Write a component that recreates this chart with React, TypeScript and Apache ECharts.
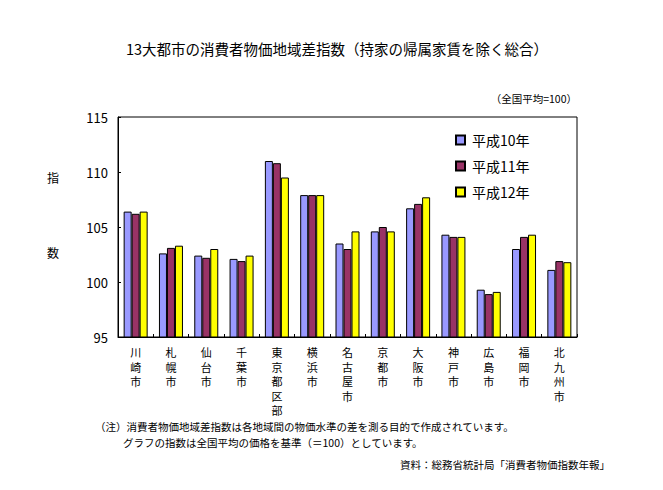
import React, { useEffect, useRef } from "react";
import * as echarts from "echarts";

const categories = ["川崎市", "札幌市", "仙台市", "千葉市", "東京都区部", "横浜市", "名古屋市", "京都市", "大阪市", "神戸市", "広島市", "福岡市", "北九州市"];
const seriesNames = ["平成10年", "平成11年", "平成12年"];
const h10 = [106.4, 102.6, 102.4, 102.1, 111.0, 107.9, 103.5, 104.6, 106.7, 104.3, 99.3, 103.0, 101.1];
const h11 = [106.2, 103.1, 102.2, 101.9, 110.8, 107.9, 103.0, 105.0, 107.1, 104.1, 98.9, 104.1, 101.9];
const h12 = [106.4, 103.3, 103.0, 102.4, 109.5, 107.9, 104.6, 104.6, 107.7, 104.1, 99.1, 104.3, 101.8];
const colors = ["#9999FF", "#993366", "#FFFF00"];

const FONT = "'Noto Sans CJK JP', sans-serif";

export default function App() {
  const ref = useRef<HTMLDivElement>(null);
  useEffect(() => {
    const chart = echarts.init(ref.current!, null, { renderer: "svg" });
    const data = [h10, h11, h12];
    chart.setOption({
      animation: false,
      backgroundColor: "#fff",
      textStyle: { fontFamily: FONT, color: "#000" },
      title: {
        text: "13大都市の消費者物価地域差指数（持家の帰属家賃を除く総合）",
        left: 332,
        textAlign: "center",
        top: 36,
        textStyle: { fontSize: 14.5, fontWeight: "normal", color: "#000", fontFamily: FONT },
      },
      legend: {
        orient: "vertical",
        left: 450,
        top: 127,
        itemWidth: 9,
        itemHeight: 9,
        itemGap: 10,
        icon: "rect",
        data: seriesNames,
        textStyle: { fontSize: 14, color: "#000", fontFamily: FONT, lineHeight: 16, padding: [0, 0, 0, 2] },
      },
      grid: {
        left: 118,
        right: 86,
        top: 117,
        bottom: 153,
        show: true,
        borderColor: "#000",
        borderWidth: 1,
      },
      xAxis: {
        type: "category",
        data: categories,
        axisLine: { lineStyle: { color: "#000", width: 1 } },
        axisTick: { show: true, inside: true, length: 3, lineStyle: { color: "#000" } },
        axisLabel: {
          color: "#000",
          fontSize: 11,
          lineHeight: 14.5,
          margin: 8,
          fontFamily: FONT,
          formatter: (v: string) => v.split("").join("\n"),
        },
      },
      yAxis: {
        type: "value",
        min: 95,
        max: 115,
        interval: 5,
        splitLine: { show: false },
        axisLine: { show: true, lineStyle: { color: "#000", width: 1 } },
        axisTick: { show: true, inside: true, length: 3, lineStyle: { color: "#000" } },
        axisLabel: { color: "#000", fontSize: 13, margin: 10, fontFamily: FONT },
      },
      series: seriesNames.map((name, i) => ({
        name,
        type: "bar",
        data: data[i],
        barWidth: 8,
        barGap: "0%",
        itemStyle: { color: colors[i], borderColor: "#000", borderWidth: 1 },
      })),
      graphic: [
        { type: "text", left: 47, top: 171, style: { text: "指", fill: "#000", font: `12px ${FONT}` } },
        { type: "text", left: 47, top: 246, style: { text: "数", fill: "#000", font: `12px ${FONT}` } },
        { type: "text", right: 86, top: 93, style: { text: "（全国平均=100）", fill: "#000", font: `10.5px ${FONT}` } },
        { type: "text", left: 95, top: 421, style: { text: "（注）消費者物価地域差指数は各地域間の物価水準の差を測る目的で作成されています。", fill: "#000", font: `10.5px ${FONT}` } },
        { type: "text", left: 123, top: 437, style: { text: "グラフの指数は全国平均の価格を基準（＝100）としています。", fill: "#000", font: `10.5px ${FONT}` } },
        { type: "text", right: 53, top: 459, style: { text: "資料：総務省統計局「消費者物価指数年報」", fill: "#000", font: `10.5px ${FONT}` } },
      ],
    });
    return () => chart.dispose();
  }, []);
  return <div ref={ref} style={{ width: 663, height: 490, position: "absolute", left: 0, top: 0 }} />;
}
